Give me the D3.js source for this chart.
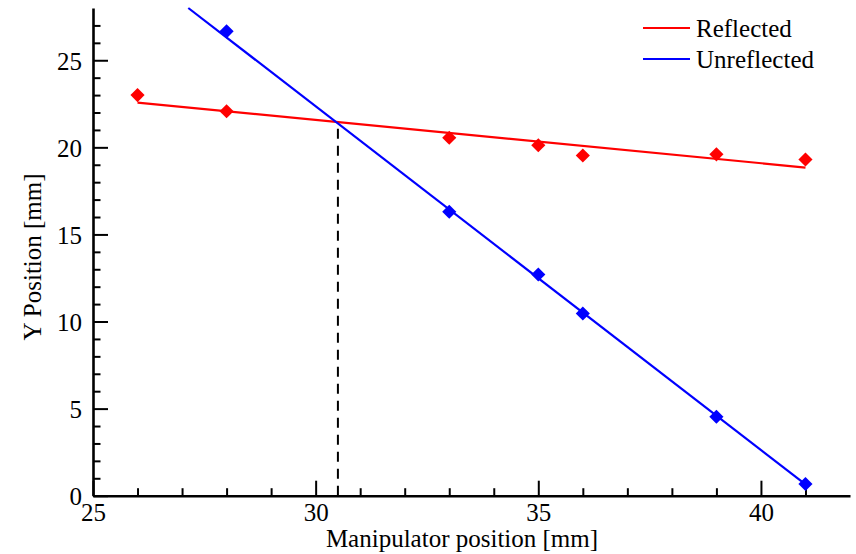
<!DOCTYPE html>
<html>
<head>
<meta charset="utf-8">
<script src="https://cdn.jsdelivr.net/npm/d3@7"></script>
<style>
  body { margin: 0; background: #fff; }
</style>
</head>
<body>
<svg id="chart"></svg>
<script>
// data
const reflectedX = [26, 28, 33, 35, 36, 39, 41];
const reflectedY = [23.0, 22.07, 20.55, 20.12, 19.53, 19.6, 19.3];
const unreflectedX = [28, 33, 35, 36, 39, 41];
const unreflectedY = [26.66, 16.3, 12.7, 10.46, 4.53, 0.67];
// fitted lines, endpoints as drawn
const reflectedFit = [[26, 22.57], [41, 18.84]];
const unreflectedFit = [[27.14, 28], [41, 0.65]];
// crossing point marked with dashed line
const crossX = 30.5;
const crossY = 21.4;

const seriesNames = ["Reflected", "Unreflected"];
const seriesColors = ["#ff0000", "#0000ff"];

const xMajor = [25, 30, 35, 40];
const yMajor = [0, 5, 10, 15, 20, 25];

const width = 856, height = 554;
const plotLeft = 93, plotTop = 8, plotRight = 850, plotBottom = 495.7;
const serif = "'Liberation Serif', 'Times New Roman', Times, serif";

const svg = d3.select("#chart").attr("width", width).attr("height", height);

const x = d3.scaleLinear().domain([25, 42]).range([plotLeft, plotRight]);
const y = d3.scaleLinear().domain([0, 28]).range([plotBottom, plotTop]);

// minor ticks
svg.append("g")
  .attr("transform", `translate(0,${plotBottom})`)
  .call(d3.axisBottom(x).tickValues(d3.range(26, 42, 1).filter(v => v % 5 !== 0))
    .tickSize(-7.5).tickSizeOuter(0).tickFormat(""))
  .call(g => g.select(".domain").remove())
  .call(g => g.selectAll(".tick line").attr("stroke", "#000").attr("stroke-width", 2));

svg.append("g")
  .attr("transform", `translate(${plotLeft},0)`)
  .call(d3.axisLeft(y).tickValues(d3.range(1, 28, 1).filter(v => v % 5 !== 0))
    .tickSize(-7.5).tickSizeOuter(0).tickFormat(""))
  .call(g => g.select(".domain").remove())
  .call(g => g.selectAll(".tick line").attr("stroke", "#000").attr("stroke-width", 2));

// major ticks + labels
const xAxis = svg.append("g")
  .attr("transform", `translate(0,${plotBottom})`)
  .call(d3.axisBottom(x).tickValues(xMajor).tickSize(-15).tickSizeOuter(0));
xAxis.attr("font-family", serif);
xAxis.select(".domain").attr("stroke", "#000").attr("stroke-width", 2.6);
xAxis.selectAll(".tick line").attr("stroke", "#000").attr("stroke-width", 2);
xAxis.selectAll(".tick text")
  .style("font-family", serif)
  .style("font-size", "25px")
  .attr("y", 8).attr("dy", "0.71em");

const yAxis = svg.append("g")
  .attr("transform", `translate(${plotLeft},0)`)
  .call(d3.axisLeft(y).tickValues(yMajor).tickSize(-15).tickSizeOuter(0));
yAxis.attr("font-family", serif);
yAxis.select(".domain").attr("stroke", "#000").attr("stroke-width", 2.6);
yAxis.selectAll(".tick line").attr("stroke", "#000").attr("stroke-width", 2);
yAxis.selectAll(".tick text")
  .style("font-family", serif)
  .style("font-size", "25px")
  .attr("x", -11).attr("dy", "0.36em");

// dashed marker at the crossing
svg.append("line")
  .attr("x1", x(crossX)).attr("x2", x(crossX))
  .attr("y1", y(0)).attr("y2", y(crossY))
  .attr("stroke", "#000").attr("stroke-width", 2)
  .attr("stroke-dasharray", "10,7");

const line = d3.line().x(d => x(d[0])).y(d => y(d[1]));

[reflectedFit, unreflectedFit].forEach((fit, i) => {
  svg.append("path")
    .datum(fit)
    .attr("d", line)
    .attr("fill", "none")
    .attr("stroke", seriesColors[i])
    .attr("stroke-width", 2.2);
});

const diamond = d3.symbol().type(d3.symbolSquare).size(100);

const pointSets = [
  d3.zip(reflectedX, reflectedY),
  d3.zip(unreflectedX, unreflectedY)
];
pointSets.forEach((pts, i) => {
  svg.append("g")
    .selectAll("path")
    .data(pts)
    .enter()
    .append("path")
    .attr("d", diamond)
    .attr("transform", d => `translate(${x(d[0])},${y(d[1])}) rotate(45)`)
    .attr("fill", seriesColors[i]);
});

// legend
const legend = svg.append("g").attr("transform", "translate(643,28)");
seriesNames.forEach((name, i) => {
  const row = legend.append("g").attr("transform", `translate(0,${i * 31})`);
  row.append("line")
    .attr("x1", 0).attr("x2", 47)
    .attr("stroke", seriesColors[i]).attr("stroke-width", 2.2);
  row.append("text")
    .attr("x", 53).attr("y", 0).attr("dy", "0.34em")
    .style("font-family", serif)
    .style("font-size", "25px")
    .text(name);
});

// axis titles
svg.append("text")
  .attr("x", 462).attr("y", 547)
  .attr("text-anchor", "middle")
  .style("font-family", serif)
  .style("font-size", "25px")
  .text("Manipulator position [mm]");

svg.append("text")
  .attr("transform", "translate(41,257) rotate(-90)")
  .attr("text-anchor", "middle")
  .style("font-family", serif)
  .style("font-size", "25px")
  .text("Y Position [mm]");
</script>
</body>
</html>
